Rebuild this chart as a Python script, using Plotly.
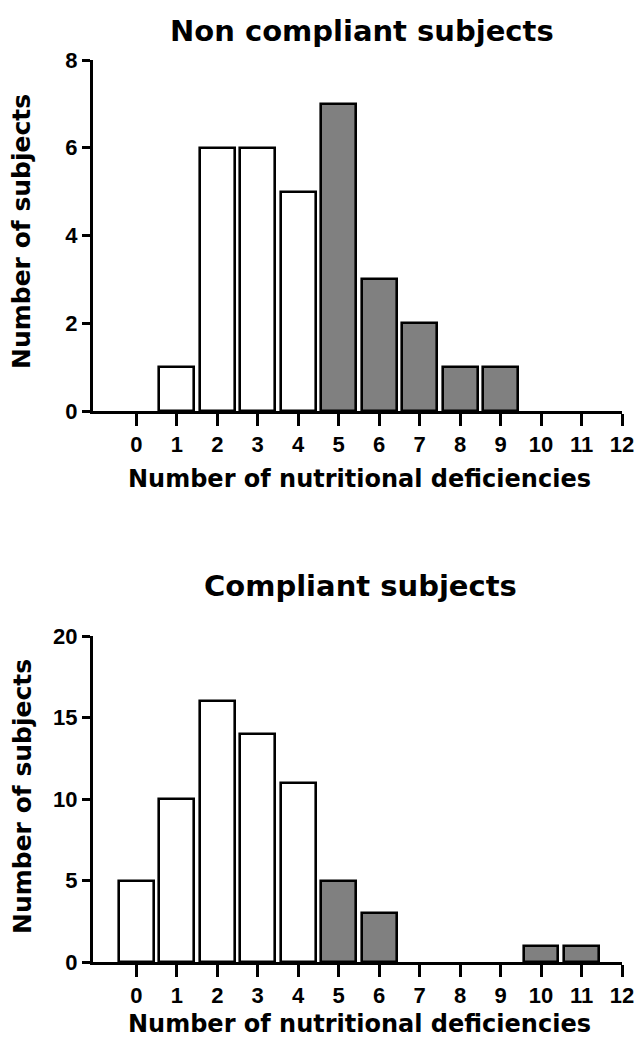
import plotly.graph_objects as go

deficiencies = list(range(13))
non_compliant = [0, 1, 6, 6, 5, 7, 3, 2, 1, 1, 0, 0, 0]
compliant = [5, 10, 16, 14, 11, 5, 3, 0, 0, 0, 1, 1, 0]
threshold = 5  # bars at or above this count of deficiencies are shaded grey

top_yticks = [0, 2, 4, 6, 8]
bottom_yticks = [0, 5, 10, 15, 20]

title_top = "Non compliant subjects"
title_bottom = "Compliant subjects"
x_title = "Number of nutritional deficiencies"
y_title = "Number of subjects"

W, H = 640, 1039
FONT = "DejaVu Sans, Liberation Sans, Arial, sans-serif"
TICKFONT = "Liberation Sans, Arial, sans-serif"

def colors(xs):
    return ["#808080" if x >= threshold else "#ffffff" for x in xs]

def visible(vals):
    # zero counts draw no bar at all
    return [v if v else None for v in vals]

fig = go.Figure()
fig.add_trace(go.Bar(x=deficiencies, y=visible(non_compliant), width=0.86,
                     marker=dict(color=colors(deficiencies), line=dict(color="black", width=2.6)),
                     xaxis="x", yaxis="y", showlegend=False))
fig.add_trace(go.Bar(x=deficiencies, y=visible(compliant), width=0.86,
                     marker=dict(color=colors(deficiencies), line=dict(color="black", width=2.6)),
                     xaxis="x2", yaxis="y2", showlegend=False))

xl, xr = 93 / W, 622 / W
top_dom = [1 - 411 / H, 1 - 60 / H]
bot_dom = [1 - 962 / H, 1 - 636 / H]

tickfont = dict(family=TICKFONT, size=22, color="black", weight="bold")
common_x = dict(range=[-1.07, 12], tickvals=deficiencies, ticks="outside", ticklen=12,
                tickwidth=3, tickcolor="black", showline=True, linewidth=3, linecolor="black",
                showgrid=False, zeroline=False, tickfont=tickfont, domain=[xl, xr],
                fixedrange=True, automargin=False)
common_y = dict(ticks="outside", ticklen=8, tickwidth=3, tickcolor="black", showline=True,
                linewidth=3, linecolor="black", showgrid=False, zeroline=False,
                tickfont=tickfont, fixedrange=True, automargin=False)

fig.update_layout(
    width=W, height=H, margin=dict(l=0, r=0, t=0, b=0, autoexpand=False),
    plot_bgcolor="white", paper_bgcolor="white", bargap=0,
    xaxis=dict(**common_x, anchor="y"),
    yaxis=dict(**common_y, range=[0, 8], tickvals=top_yticks, domain=top_dom, anchor="x"),
    xaxis2=dict(**common_x, anchor="y2"),
    yaxis2=dict(**common_y, range=[0, 20], tickvals=bottom_yticks, domain=bot_dom, anchor="x2"),
)

ann = []
def add(text, xpix, ypix, size, angle=0):
    ann.append(dict(text="<b>%s</b>" % text, x=xpix / W, y=1 - ypix / H, xref="paper", yref="paper",
                    showarrow=False, textangle=angle, xanchor="center", yanchor="middle",
                    font=dict(family=FONT, size=size, color="black")))

add(title_top, 362, 31, 29)
add(title_bottom, 360, 586, 29)
add(x_title, 359, 479, 24)
add(x_title, 359, 1024, 24)
add(y_title, 22, 232, 25, -90)
add(y_title, 22, 797, 25, -90)
fig.update_layout(annotations=ann)

fig.write_html("out.html", config={"displayModeBar": False},
               post_script="document.body.style.margin='0';")
